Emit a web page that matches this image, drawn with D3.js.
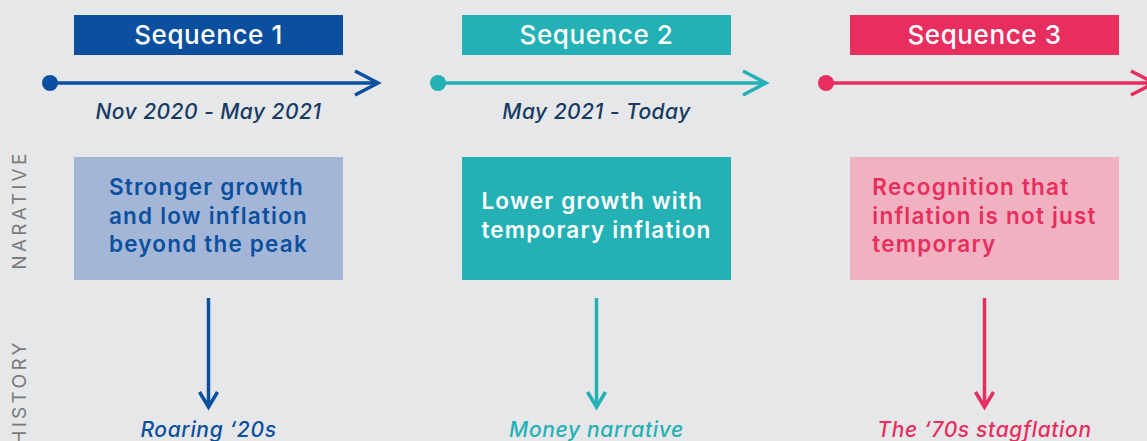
<!DOCTYPE html>
<html>
<head>
<meta charset="utf-8">
<script src="https://cdn.jsdelivr.net/npm/d3@7"></script>
<style>
  html, body { margin: 0; padding: 0; background: #e6e7e9; }
  #chartDiv { width: 1147px; height: 441px; overflow: hidden; }
  text { font-family: Inter, "Open Sans", sans-serif; }
</style>
</head>
<body>
<div id="chartDiv"></div>
<script>
// chart content
const sequences = ["Sequence 1", "Sequence 2", "Sequence 3"];
const periods = ["Nov 2020 - May 2021", "May 2021 - Today", ""];
const narratives = [
    ["Stronger growth", "and low inflation", "beyond the peak"],
    ["Lower growth with", "temporary inflation"],
    ["Recognition that", "inflation is not just", "temporary"]
];
const histories = ["Roaring \u201820s", "Money narrative", "The \u201870s stagflation"];
const rows = ["NARATIVE", "HISTORY"];

// colours per sequence
const mainColors = ["#0b509f", "#23b1b5", "#e72e5f"];
const boxColors = ["#a3b6d8", "#23b1b5", "#f0b2c0"];
const boxTextColors = ["#0b509f", "#ffffff", "#e72e5f"];

function drawChart() {
    let chartDiv = document.getElementById("chartDiv");
    let width = 1147;
    let height = 441;

    let svg = d3.select(chartDiv).append("svg")
        .attr("width", width)
        .attr("height", height);

    svg.append("rect")
        .attr("width", width)
        .attr("height", height)
        .attr("fill", "#e6e7e9");

    const margin = { left: 74, right: 28 };

    // columns
    let x = d3.scaleBand()
        .domain(sequences)
        .range([margin.left, width - margin.right])
        .paddingInner(0.3067)
        .paddingOuter(0);

    // row label positions
    let y = d3.scalePoint()
        .domain(rows)
        .range([210, 392]);

    const header = { top: 15, h: 40 };
    const lineY = 83;
    const box = { top: 157, h: 123 };
    const arrowDown = { top: 298, bottom: 407 };
    const historyY = 437;

    let cols = svg.selectAll(".col")
        .data(sequences)
        .join("g")
        .attr("class", "col")
        .attr("transform", d => `translate(${x(d)},0)`);

    // header boxes
    cols.append("rect")
        .attr("y", header.top)
        .attr("width", x.bandwidth())
        .attr("height", header.h)
        .attr("fill", (d, i) => mainColors[i]);

    cols.append("text")
        .attr("x", x.bandwidth() / 2)
        .attr("y", header.top + 28.5)
        .attr("text-anchor", "middle")
        .attr("fill", "#fff")
        .style("font-size", "26px")
        .style("font-weight", 500)
        .style("letter-spacing", "0.6px")
        .text(d => d);

    // timeline arrows
    cols.append("line")
        .attr("x1", -24)
        .attr("x2", 303)
        .attr("y1", lineY)
        .attr("y2", lineY)
        .attr("stroke", (d, i) => mainColors[i])
        .attr("stroke-width", 3.5);

    cols.append("circle")
        .attr("cx", -24)
        .attr("cy", lineY)
        .attr("r", 8)
        .attr("fill", (d, i) => mainColors[i]);

    cols.append("path")
        .attr("d", `M${304 - 23},${lineY - 12}L304,${lineY}L${304 - 23},${lineY + 12}`)
        .attr("fill", "none")
        .attr("stroke", (d, i) => mainColors[i])
        .attr("stroke-width", 3.5);

    // period labels
    cols.append("text")
        .attr("x", x.bandwidth() / 2)
        .attr("y", 119)
        .attr("text-anchor", "middle")
        .attr("fill", "#173b63")
        .style("font-size", "21px")
        .style("font-style", "italic")
        .style("font-weight", 500)
        .style("letter-spacing", "0.45px")
        .text((d, i) => periods[i]);

    // narrative boxes
    cols.append("rect")
        .attr("y", box.top)
        .attr("width", x.bandwidth())
        .attr("height", box.h)
        .attr("fill", (d, i) => boxColors[i]);

    cols.each(function(d, i) {
        let lines = narratives[i];
        let lh = 28.5;
        let firstY = box.top + box.h / 2 - (lines.length - 1) / 2 * lh + 5;
        let t = d3.select(this).append("text")
            .attr("fill", boxTextColors[i])
            .style("font-size", "22.5px")
            .style("font-weight", 600)
            .style("letter-spacing", "1.2px");
        t.selectAll("tspan")
            .data(lines)
            .join("tspan")
            .attr("x", 0)
            .attr("y", (l, j) => firstY + j * lh)
            .text(l => l);
        // centre the left-aligned block inside the box
        let w = t.node().getBBox().width;
        t.attr("transform", `translate(${(x.bandwidth() - w) / 2},0)`);
    });

    // down arrows
    let cx = x.bandwidth() / 2;
    cols.append("line")
        .attr("x1", cx)
        .attr("x2", cx)
        .attr("y1", arrowDown.top)
        .attr("y2", arrowDown.bottom - 1)
        .attr("stroke", (d, i) => mainColors[i])
        .attr("stroke-width", 3.5);

    cols.append("path")
        .attr("d", `M${cx - 9},${arrowDown.bottom - 15}L${cx},${arrowDown.bottom}L${cx + 9},${arrowDown.bottom - 15}`)
        .attr("fill", "none")
        .attr("stroke", (d, i) => mainColors[i])
        .attr("stroke-width", 3.5);

    // history labels
    cols.append("text")
        .attr("x", cx)
        .attr("y", historyY)
        .attr("text-anchor", "middle")
        .attr("fill", (d, i) => mainColors[i])
        .style("font-size", "21px")
        .style("font-style", "italic")
        .style("font-weight", 500)
        .style("letter-spacing", "0.65px")
        .text((d, i) => histories[i]);

    // row labels
    svg.selectAll(".rowLabel")
        .data(rows)
        .join("text")
        .attr("class", "rowLabel")
        .attr("transform", d => `translate(26,${y(d)}) rotate(-90)`)
        .attr("text-anchor", "middle")
        .attr("fill", "#7b7b7b")
        .style("font-size", "19px")
        .style("letter-spacing", "3.3px")
        .text(d => d);
}

drawChart();
</script>
</body>
</html>
